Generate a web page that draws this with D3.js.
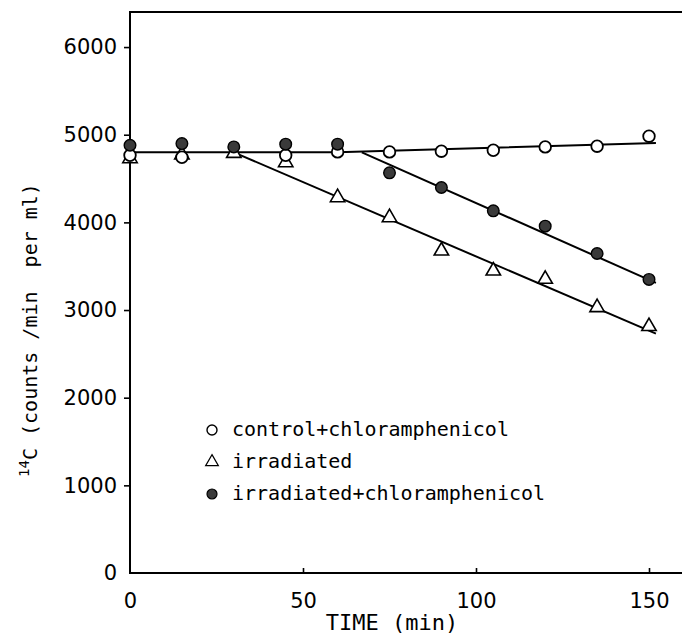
<!DOCTYPE html>
<html>
<head>
<meta charset="utf-8">
<script src="https://cdn.jsdelivr.net/npm/d3@7"></script>
<style>
  body { margin: 0; background: #fff; overflow: hidden; }
  svg { display: block; }
</style>
</head>
<body>
<div id="chart"></div>
<script>
'use strict'

// sampling times (min)
const times = [0, 15, 30, 45, 60, 75, 90, 105, 120, 135, 150]

// measured 14C counts/min per ml (null = hidden under another marker)
const control = [4766, 4743, null, 4766, 4804, 4804, 4812, 4823, 4861, 4869, 4983]
const irradiated = [4717, 4760, 4778, 4671, 4272, 4044, 3664, 3436, 3341, 3018, 2802]
const irradiatedChl = [4880, 4899, 4861, 4892, 4892, 4565, 4398, 4132, 3957, 3645, 3349]

// hand-drawn fit lines [time, value]
const fitControl = [[0, 4799], [60, 4799], [152, 4905]]
const fitIrradiated = [[30, 4799], [152, 2730]]
const fitIrradiatedChl = [[67, 4799], [152, 3310]]

const xTicks = [0, 50, 100, 150]
const yTicks = [0, 1000, 2000, 3000, 4000, 5000, 6000]

const legendLabels = ['control+chloramphenicol', 'irradiated', 'irradiated+chloramphenicol']

////////////////////////////////////
//////////// svg setup /////////////
////////////////////////////////////

const svgWidth = 682
const svgHeight = 638

const svg = d3.select('#chart').append('svg')
    .attr('width', svgWidth)
    .attr('height', svgHeight)

const x = d3.scaleLinear().domain([0, 160]).range([130, 683.6])
const y = d3.scaleLinear().domain([0, 6400]).range([573, 12])

const numFont = '"DejaVu Sans", sans-serif'
const textFont = '"DejaVu Sans Mono", monospace'
const fmt = d3.format('d')

// axes
const yAxis = svg.append('g')
    .attr('transform', `translate(${x(0)},0)`)
    .call(d3.axisLeft(y).tickValues(yTicks.filter(d => d > 0)).tickFormat(fmt)
        .tickSizeInner(6).tickSizeOuter(0).tickPadding(7))
yAxis.select('.domain').remove()
yAxis.selectAll('.tick line').attr('stroke', '#000').attr('stroke-width', 1.6)
yAxis.selectAll('.tick text')
    .attr('font-family', numFont).attr('font-size', 21).attr('fill', '#000')

// label for 0 on y (no tick mark)
svg.append('text')
    .attr('x', x(0) - 13).attr('y', y(0))
    .attr('dy', '0.35em')
    .attr('text-anchor', 'end')
    .attr('font-family', numFont).attr('font-size', 21)
    .text(fmt(yTicks[0]))

const xAxis = svg.append('g')
    .attr('transform', `translate(0,${y(0)})`)
    .call(d3.axisBottom(x).tickValues(xTicks).tickFormat(fmt)
        .tickSizeInner(-5).tickSizeOuter(0).tickPadding(20))
xAxis.select('.domain').remove()
xAxis.selectAll('.tick line').attr('stroke', '#000').attr('stroke-width', 1.6)
    .filter(d => d === 0).remove()
xAxis.selectAll('.tick text')
    .attr('font-family', numFont).attr('font-size', 21).attr('fill', '#000')

// frame: left, bottom, top (runs off the right edge, no right border)
const frameRight = svgWidth + 10
const frameLines = [
    [x(0), y(0), frameRight, y(0)],
    [x(0), y(0), x(0), y(6400)],
    [x(0), y(6400), frameRight, y(6400)]
]
svg.append('g').selectAll('line')
    .data(frameLines)
    .join('line')
    .attr('x1', d => d[0]).attr('y1', d => d[1])
    .attr('x2', d => d[2]).attr('y2', d => d[3])
    .attr('stroke', '#000')
    .attr('stroke-width', 2)
    .attr('stroke-linecap', 'square')

// axis titles
svg.append('text')
    .attr('x', 392).attr('y', 630)
    .attr('text-anchor', 'middle')
    .attr('font-family', textFont).attr('font-size', 22)
    .text('TIME (min)')

const yTitle = svg.append('text')
    .attr('transform', 'translate(37,330) rotate(-90)')
    .attr('text-anchor', 'middle')
    .attr('font-family', textFont).attr('font-size', 20)
    .style('white-space', 'pre')
yTitle.append('tspan').attr('font-size', 14).attr('dy', -8).text('14')
yTitle.append('tspan').attr('dy', 8).text('C (counts /min  per ml)')

// fit lines
const line = d3.line().x(d => x(d[0])).y(d => y(d[1]))
;[fitControl, fitIrradiated, fitIrradiatedChl].forEach(f => {
    svg.append('path')
        .attr('d', line(f))
        .attr('fill', 'none')
        .attr('stroke', '#000')
        .attr('stroke-width', 2)
})

// markers
const tri = d3.symbol().type(d3.symbolTriangle).size(90)

svg.append('g').selectAll('path')
    .data(times.map((t, i) => [t, irradiated[i]]).filter(d => d[1] != null))
    .join('path')
    .attr('d', tri)
    .attr('transform', d => `translate(${x(d[0])},${y(d[1]) - 1})`)
    .attr('fill', '#fff').attr('stroke', '#000').attr('stroke-width', 1.6)

svg.append('g').selectAll('circle')
    .data(times.map((t, i) => [t, control[i]]).filter(d => d[1] != null))
    .join('circle')
    .attr('cx', d => x(d[0])).attr('cy', d => y(d[1])).attr('r', 5.8)
    .attr('fill', '#fff').attr('stroke', '#000').attr('stroke-width', 1.8)

svg.append('g').selectAll('circle')
    .data(times.map((t, i) => [t, irradiatedChl[i]]).filter(d => d[1] != null))
    .join('circle')
    .attr('cx', d => x(d[0])).attr('cy', d => y(d[1])).attr('r', 5.8)
    .attr('fill', '#3a3a3a').attr('stroke', '#000').attr('stroke-width', 1.4)

// legend
const legend = svg.append('g').attr('transform', 'translate(212,430)')
legendLabels.forEach((label, i) => {
    const row = legend.append('g').attr('transform', `translate(0,${i * 32})`)
    if (i === 0) {
        row.append('circle').attr('r', 5).attr('fill', '#fff').attr('stroke', '#000').attr('stroke-width', 1.4)
    } else if (i === 1) {
        row.append('path').attr('d', d3.symbol().type(d3.symbolTriangle).size(70))
            .attr('fill', '#fff').attr('stroke', '#000').attr('stroke-width', 1.2)
    } else {
        row.append('circle').attr('r', 5).attr('fill', '#3a3a3a').attr('stroke', '#000').attr('stroke-width', 1.2)
    }
    row.append('text')
        .attr('x', 20).attr('y', 0).attr('dy', '0.32em')
        .attr('font-family', textFont).attr('font-size', 20)
        .text(label)
})
</script>
</body>
</html>
